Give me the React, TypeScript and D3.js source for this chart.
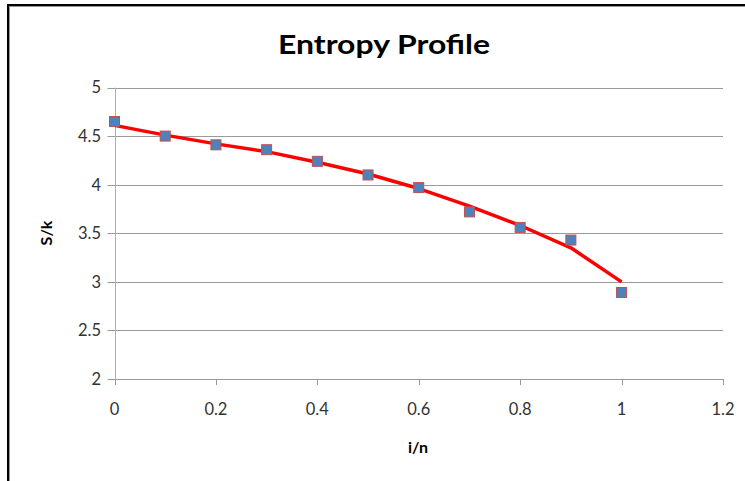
import React from "react";
import * as d3 from "d3";

const xValues = [0, 0.1, 0.2, 0.3, 0.4, 0.5, 0.6, 0.7, 0.8, 0.9, 1.0];
const measured = [4.65, 4.5, 4.41, 4.36, 4.24, 4.1, 3.97, 3.72, 3.56, 3.43, 2.89];
const fitted = [4.61, 4.51, 4.42, 4.34, 4.23, 4.11, 3.96, 3.78, 3.58, 3.35, 3.0];
const xTicks = [0, 0.2, 0.4, 0.6, 0.8, 1, 1.2];
const yTicks = [2, 2.5, 3, 3.5, 4, 4.5, 5];

const W = 745;
const H = 481;
const left = 114.5;
const right = 723;
const top = 87.5;
const bottom = 379;

const FONT = "Lato, 'Open Sans', sans-serif";

export default function App() {
  const x = d3.scaleLinear().domain([0, 1.2]).range([left, right]);
  const y = d3.scaleLinear().domain([2, 5]).range([bottom, top]);
  const line = d3
    .line<number>()
    .x((_, i) => x(xValues[i]))
    .y((d) => y(d));
  const grid = "#9a9a9a";
  return (
    <svg
      width={W}
      height={H}
      style={{ position: "absolute", left: 0, top: 0, background: "#fff" }}
    >
      <rect x={0} y={0} width={W} height={H} fill="#fff" />
      {/* frame */}
      <line x1={8} x2={W} y1={5} y2={5} stroke="#000" strokeWidth={2} />
      <line x1={8} x2={W} y1={6.5} y2={6.5} stroke="#999" strokeWidth={1} />
      <line x1={8} x2={8} y1={4} y2={H} stroke="#000" strokeWidth={2} />
      <line x1={9.5} x2={9.5} y1={6} y2={H} stroke="#999" strokeWidth={1} />

      {/* gridlines */}
      {yTicks.map((t) => (
        <g key={"y" + t}>
          <line
            x1={left - 7}
            x2={right}
            y1={Math.round(y(t)) + 0.5}
            y2={Math.round(y(t)) + 0.5}
            stroke={grid}
            strokeWidth={1}
          />
          <text
            x={101}
            y={y(t)}
            dy="0.36em"
            textAnchor="end"
            fontFamily={FONT}
            fontSize={16.5}
            fill="#333"
          >
            {t}
          </text>
        </g>
      ))}
      {/* y axis */}
      <line
        x1={Math.round(left) + 0.5}
        x2={Math.round(left) + 0.5}
        y1={top}
        y2={bottom}
        stroke="#b0b0b0"
        strokeWidth={1}
      />
      {/* x ticks */}
      {xTicks.map((t) => (
        <g key={"x" + t}>
          <line
            x1={Math.round(x(t)) + 0.5}
            x2={Math.round(x(t)) + 0.5}
            y1={bottom}
            y2={bottom + 6}
            stroke={grid}
            strokeWidth={1}
          />
          <text
            x={x(t)}
            y={415}
            textAnchor="middle"
            fontFamily={FONT}
            fontSize={16.5}
            fill="#333"
          >
            {t}
          </text>
        </g>
      ))}

      {/* fitted line */}
      <path
        d={line(fitted) || ""}
        fill="none"
        stroke="#ff0000"
        strokeWidth={3.5}
        strokeLinejoin="round"
      />
      {/* markers */}
      {measured.map((v, i) => (
        <rect
          key={i}
          x={x(xValues[i]) - 5}
          y={y(v) - 5}
          width={10}
          height={10}
          fill="#4f81bd"
          stroke="#c0504d"
          strokeWidth={1}
        />
      ))}

      {/* title */}
      <text
        x={384}
        y={53.5}
        textAnchor="middle"
        fontFamily={FONT}
        fontWeight="bold"
        fontSize={27}
        fill="#000"
        textLength={212}
        lengthAdjust="spacingAndGlyphs"
      >
        Entropy Profile
      </text>
      {/* axis titles */}
      <text
        x={418}
        y={453}
        textAnchor="middle"
        fontFamily={FONT}
        fontWeight="bold"
        fontSize={16}
        fill="#000"
      >
        i/n
      </text>
      <text
        transform={`translate(52,${233}) rotate(-90)`}
        textAnchor="middle"
        fontFamily={FONT}
        fontWeight="bold"
        fontSize={16}
        fill="#000"
      >
        S/k
      </text>
    </svg>
  );
}
